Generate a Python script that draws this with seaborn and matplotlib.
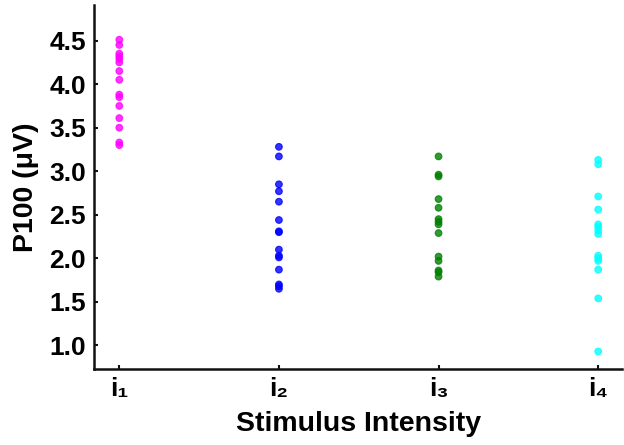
import pandas as pd
import seaborn as sns
import matplotlib.pyplot as plt

# P100 amplitude per stimulus intensity
LEVELS = ["i\u2081", "i\u2082", "i\u2083", "i\u2084"]
I1 = [4.51, 4.45, 4.35, 4.32, 4.29, 4.25, 4.15, 4.05, 3.88, 3.85, 3.75, 3.61, 3.50, 3.33, 3.30]
I2 = [3.28, 3.17, 2.85, 2.77, 2.65, 2.44, 2.31, 2.30, 2.10, 2.03, 2.01, 1.87, 1.70, 1.68, 1.65]
I3 = [3.17, 2.96, 2.94, 2.68, 2.58, 2.45, 2.42, 2.39, 2.29, 2.02, 1.97, 1.86, 1.84, 1.79]
I4 = [3.13, 3.08, 2.71, 2.56, 2.39, 2.36, 2.32, 2.28, 2.03, 2.00, 1.97, 1.87, 1.54, 0.93]
Y_TICKS = [1.0, 1.5, 2.0, 2.5, 3.0, 3.5, 4.0, 4.5]
COLORS = ["#FF00FF", "#0000FF", "#008000", "#00FFFF"]


def main():
    rows = []
    for level, vals in zip(LEVELS, [I1, I2, I3, I4]):
        for v in vals:
            rows.append({"level": level, "p100": v})
    df = pd.DataFrame(rows)
    style_plot(df)


def style_plot(df: pd.DataFrame) -> None:
    sns.set_style("white")
    plt.rcParams["font.family"] = ["Liberation Sans", "DejaVu Sans"]
    plt.rcParams["font.weight"] = "bold"
    plt.rcParams["text.color"] = "black"
    plt.rcParams["axes.labelcolor"] = "black"
    plt.rcParams["xtick.color"] = "black"
    plt.rcParams["ytick.color"] = "black"

    fig = plt.figure(figsize=(6.24, 4.45), dpi=100)
    ax = fig.add_axes([0.151, 0.171, 0.846, 0.818])
    sns.stripplot(
        data=df,
        x="level",
        y="p100",
        hue="level",
        order=LEVELS,
        palette=COLORS,
        jitter=False,
        size=4.8,
        alpha=0.8,
        linewidth=0.8,
        legend=False,
        ax=ax,
    )
    # darker rims like the reference
    for coll, c in zip(ax.collections, COLORS):
        coll.set_edgecolor(c)

    sns.despine(ax=ax)
    for side in ["left", "bottom"]:
        ax.spines[side].set_linewidth(1.8)
        ax.spines[side].set_color("#111111")

    ax.set_xlim(-0.157, 3.15)
    ax.set_ylim(0.73, 4.91)
    ax.set_yticks(Y_TICKS)
    ax.set_yticklabels([f"{t:.1f}" for t in Y_TICKS])
    ax.tick_params(axis="both", direction="in", length=3, width=1.5,
                   color="#111111", labelsize=19, pad=6,
                   left=True, bottom=True)
    for lab in ax.get_xticklabels() + ax.get_yticklabels():
        lab.set_fontweight("bold")

    ax.set_xlabel("Stimulus Intensity", fontsize=20.5, fontweight="bold", labelpad=7)
    ax.set_ylabel("P100 (\u03bcV)", fontsize=20.5, fontweight="bold", labelpad=7)

    fig.savefig("out.png", dpi=100, facecolor="white")


if __name__ == "__main__":
    main()
